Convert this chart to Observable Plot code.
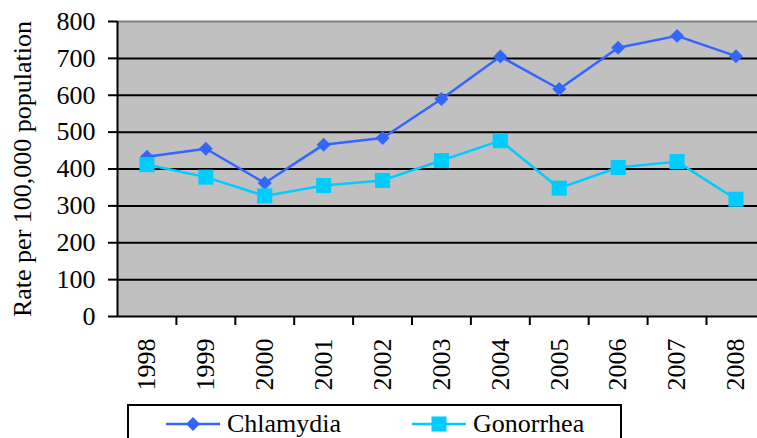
<!DOCTYPE html>
<html>
<head>
<meta charset="utf-8">
<script src="https://cdn.jsdelivr.net/npm/d3@7"></script>
<script src="https://cdn.jsdelivr.net/npm/@observablehq/plot@0.6"></script>
<style>
  html, body { margin: 0; padding: 0; background: white; overflow: hidden; font-family: 'Liberation Serif'; }
  #wrap { position: relative; width: 757px; height: 438px; font-family: 'Liberation Serif'; }
  #chart svg, #chart svg text { font-family: 'Liberation Serif'; }
  #legend { position: absolute; left: 127px; top: 404px; width: 491px; height: 60px; border: 2px solid black; background: white; }
  #legend .item { position: absolute; top: 0; height: 36px; display: flex; align-items: center; font-size: 26px; color: black; font-family: 'Liberation Serif'; }
  #legend svg { display: block; }
</style>
</head>
<body>
<div id="wrap"><div id="chart"></div><div id="legend"></div></div>
<script>
const years = [1998, 1999, 2000, 2001, 2002, 2003, 2004, 2005, 2006, 2007, 2008];
const chlamydia = [433, 455, 362, 466, 484, 590, 705, 617, 729, 761, 706];
const gonorrhea = [412, 378, 327, 355, 369, 423, 477, 348, 404, 420, 318];
const seriesNames = ["Chlamydia", "Gonorrhea"];
const seriesColors = ["#3366FF", "#00CCFF"];
const yTicks = [0, 100, 200, 300, 400, 500, 600, 700, 800];
const yLabel = "Rate per 100,000 population";

const rows = [];
years.forEach((yr, i) => {
  rows.push({year: yr, value: chlamydia[i], series: seriesNames[0]});
  rows.push({year: yr, value: gonorrhea[i], series: seriesNames[1]});
});
const chl = rows.filter(d => d.series === seriesNames[0]);
const gon = rows.filter(d => d.series === seriesNames[1]);
const bounds = years.slice(0, -1).map(y => y + 0.5);

const chart = Plot.plot({
  width: 757,
  height: 404,
  marginLeft: 117,
  marginRight: 0,
  marginTop: 21,
  marginBottom: 88,
  style: {fontFamily: "Liberation Serif", fontSize: "26px", color: "black", background: "white"},
  x: {type: "linear", domain: [years[0] - 0.5, years[0] - 0.5 + 640 / 58.9]},
  y: {domain: [0, 800]},
  marks: [
    Plot.frame({fill: "#c0c0c0", stroke: null}),
    Plot.ruleY(yTicks.filter(t => t > 0 && t < 800), {stroke: "black", strokeWidth: 2}),
    Plot.ruleY([800], {stroke: "#808080", strokeWidth: 2}),
    Plot.ruleY([0], {stroke: "black", strokeWidth: 2}),
    Plot.ruleX([years[0] - 0.5], {stroke: "black", strokeWidth: 2}),
    Plot.axisY({ticks: yTicks, tickSize: 9, tickPadding: 13, strokeWidth: 2, label: null, tickFormat: d => String(d), fontSize: 26, fontFamily: "Liberation Serif"}),
    Plot.axisX({ticks: bounds, tickSize: 9, strokeWidth: 2, tickFormat: () => "", label: null}),
    Plot.axisX({ticks: years, tickSize: 0, tickRotate: -90, tickPadding: 22, tickFormat: d => String(d), label: null, fontSize: 26, fontFamily: "Liberation Serif"}),
    Plot.text([yLabel], {frameAnchor: "left", dx: -87, rotate: -90, text: d => d, textAnchor: "middle", lineAnchor: "bottom", fontSize: 26, fontFamily: "Liberation Serif", fill: "black"}),
    Plot.line(chl, {x: "year", y: "value", stroke: seriesColors[0], strokeWidth: 2.5}),
    Plot.line(gon, {x: "year", y: "value", stroke: seriesColors[1], strokeWidth: 2.5}),
    Plot.dot(chl, {x: "year", y: "value", symbol: "diamond2", r: 6.3, fill: seriesColors[0], stroke: null}),
    Plot.dot(gon, {x: "year", y: "value", symbol: "square", r: 8.5, fill: seriesColors[1], stroke: null})
  ]
});
document.getElementById("chart").appendChild(chart);

// Legend below the chart
const legend = document.getElementById("legend");
const legendItems = [
  {name: seriesNames[0], color: seriesColors[0], symbol: d3.symbolDiamond2, size: 125, left: 36},
  {name: seriesNames[1], color: seriesColors[1], symbol: d3.symbolSquare, size: 227, left: 282}
];
legendItems.forEach(it => {
  const div = document.createElement("div");
  div.className = "item";
  div.style.left = it.left + "px";
  const svg = d3.create("svg").attr("width", 56).attr("height", 36);
  svg.append("line").attr("x1", 1).attr("x2", 55).attr("y1", 18).attr("y2", 18).attr("stroke", it.color).attr("stroke-width", 2.5);
  svg.append("path").attr("d", d3.symbol(it.symbol, it.size)()).attr("transform", "translate(28,18)").attr("fill", it.color);
  div.appendChild(svg.node());
  const span = document.createElement("span");
  span.textContent = it.name;
  span.style.marginLeft = "6px";
  div.appendChild(span);
  legend.appendChild(div);
});
</script>
</body>
</html>
